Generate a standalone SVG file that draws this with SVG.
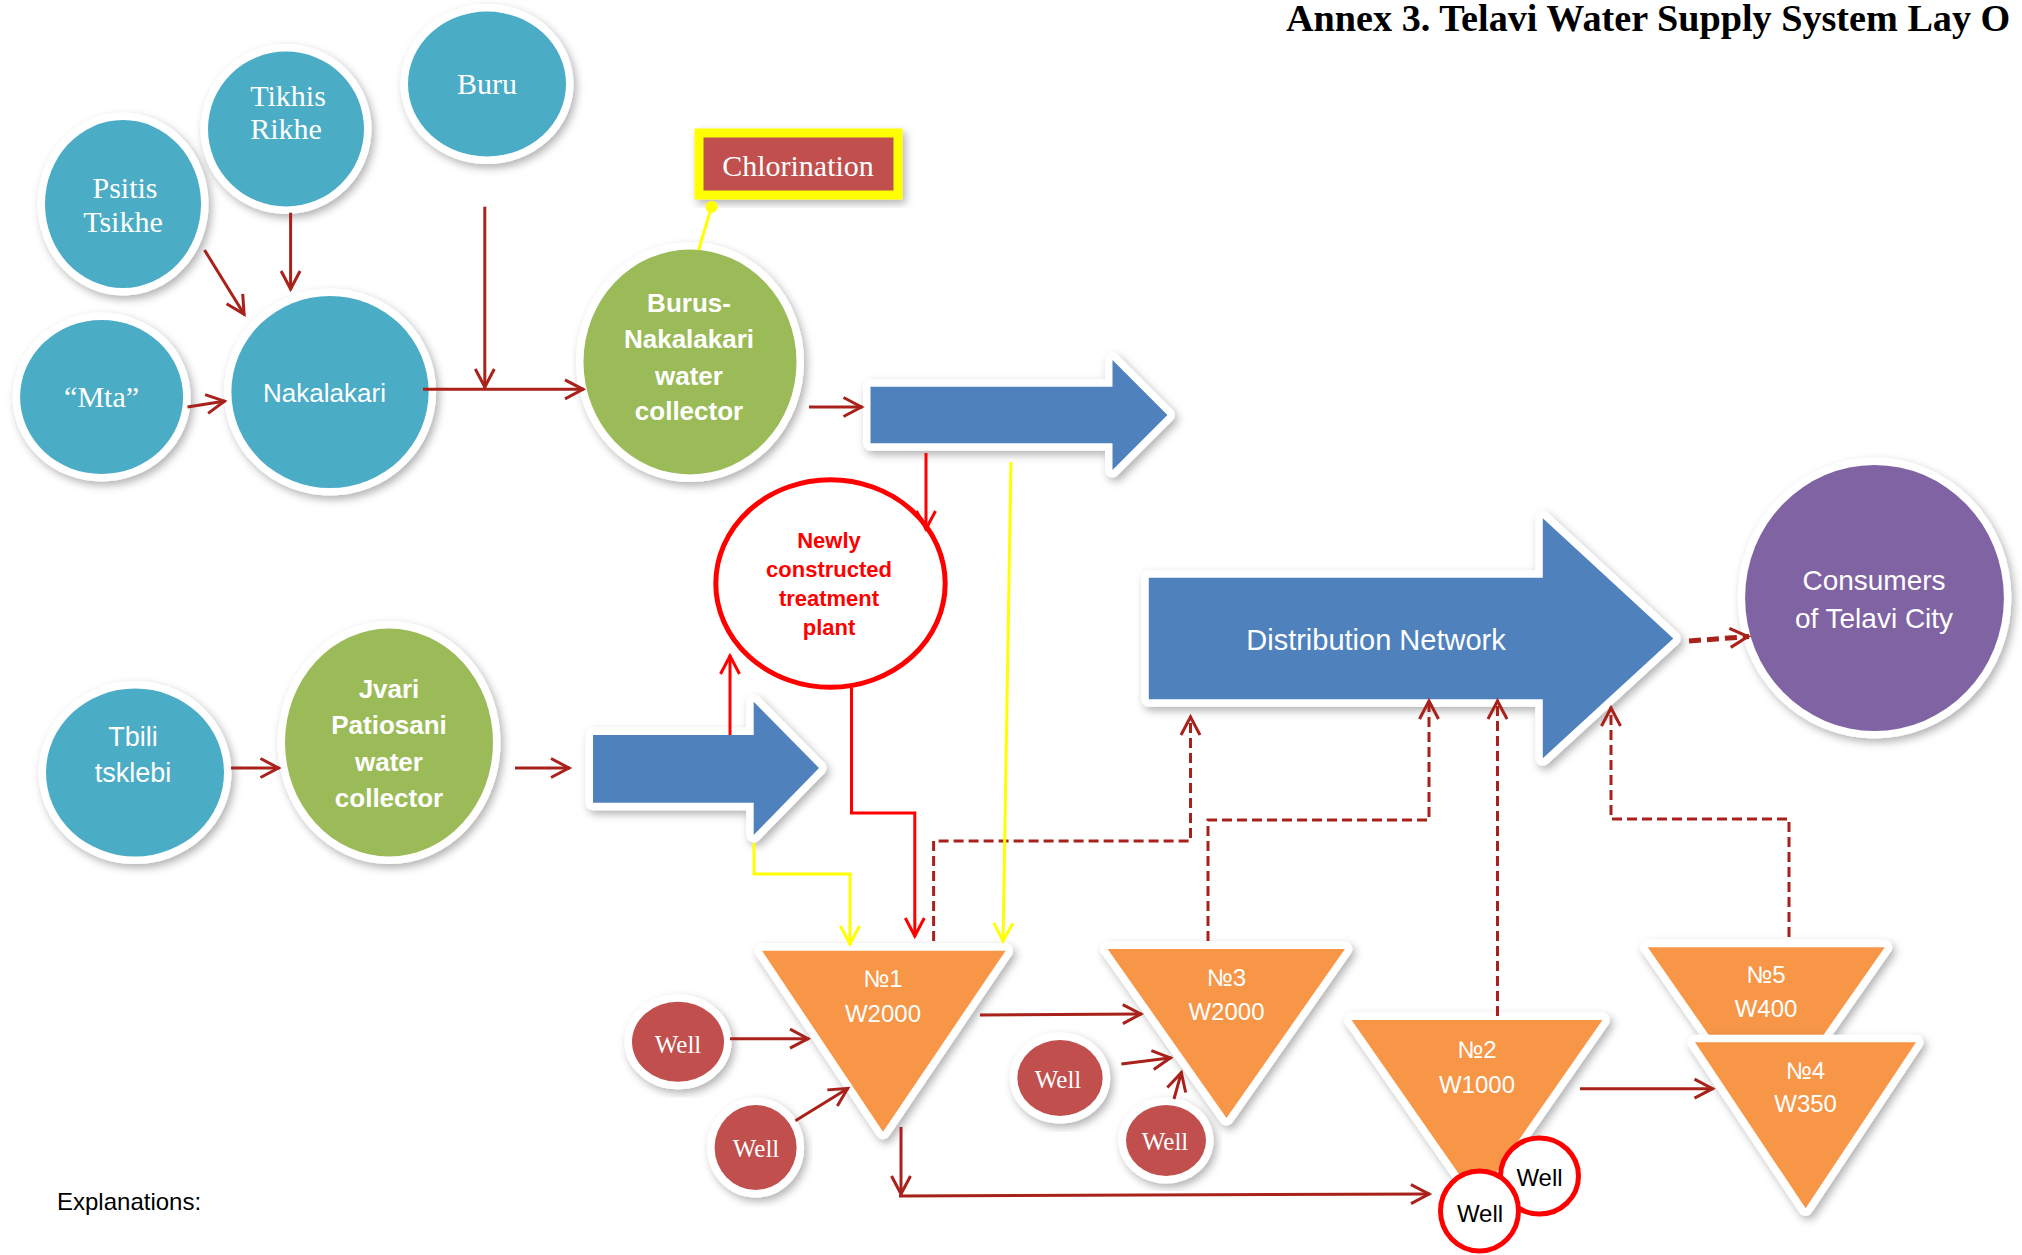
<svg xmlns="http://www.w3.org/2000/svg" width="2022" height="1255" viewBox="0 0 2022 1255">
<defs>
<style>
.serif{font-family:"Liberation Serif","Times New Roman",serif;fill:#fff;text-anchor:middle;font-size:30px}
.sans{font-family:"Liberation Sans",Arial,sans-serif;fill:#fff;text-anchor:middle}
.bold{font-weight:bold}
.shape{stroke:#fff;stroke-width:15;paint-order:stroke;filter:url(#sh);stroke-linejoin:round}
.teal{fill:#4BACC6}
.green{fill:#9BBB59}
.blue{fill:#4F81BD}
.purple{fill:#8064A2}
.orange{fill:#F79646}
.wellred{fill:#C0504D}
.conn{fill:none;stroke:#A8211A;stroke-width:3;marker-end:url(#ad)}
.dash{fill:none;stroke:#A8211A;stroke-width:3;stroke-dasharray:10 5;marker-end:url(#ad)}
.redl{fill:none;stroke:#FF0000;stroke-width:3;marker-end:url(#ar)}
.yell{fill:none;stroke:#FFFF00;stroke-width:3;marker-end:url(#ay)}
</style>
<filter id="sh" x="-20%" y="-20%" width="140%" height="140%">
<feDropShadow dx="3" dy="4" stdDeviation="4" flood-color="#000" flood-opacity="0.3"/>
</filter>
<marker id="ad" markerUnits="userSpaceOnUse" viewBox="-24 -14 30 28" markerWidth="30" markerHeight="28" refX="1" refY="0" orient="auto">
<path d="M-18,-9.5 L0,0 L-18,9.5" fill="none" stroke="#A8211A" stroke-width="3"/>
</marker>
<marker id="ar" markerUnits="userSpaceOnUse" viewBox="-24 -14 30 28" markerWidth="30" markerHeight="28" refX="1" refY="0" orient="auto">
<path d="M-18,-9.5 L0,0 L-18,9.5" fill="none" stroke="#FF0000" stroke-width="3"/>
</marker>
<marker id="ay" markerUnits="userSpaceOnUse" viewBox="-24 -14 30 28" markerWidth="30" markerHeight="28" refX="1" refY="0" orient="auto">
<path d="M-18,-9.5 L0,0 L-18,9.5" fill="none" stroke="#FFFF00" stroke-width="3"/>
</marker>
</defs>
<rect width="2022" height="1255" fill="#fff"/>

<text x="1286" y="31" font-family="Liberation Serif, Times New Roman, serif" font-weight="bold" font-size="38.2" fill="#000">Annex 3. Telavi Water Supply System Lay O</text>
<text x="57" y="1210" font-family="Liberation Sans, Arial, sans-serif" font-size="24" fill="#000">Explanations:</text>

<g id="psitis-tsikhe"><ellipse class="shape teal" cx="123" cy="204" rx="78" ry="84"/><text class="serif" x="125" y="198">Psitis</text><text class="serif" x="123" y="232">Tsikhe</text></g>
<g id="tikhis-rikhe"><ellipse class="shape teal" cx="286" cy="129" rx="78" ry="77.5"/><text class="serif" x="288" y="106">Tikhis</text><text class="serif" x="286" y="139">Rikhe</text></g>
<g id="buru"><ellipse class="shape teal" cx="487" cy="84" rx="79" ry="72.5"/><text class="serif" x="487" y="94">Buru</text></g>
<g id="mta"><ellipse class="shape teal" cx="101.6" cy="397" rx="81.5" ry="77"/><text class="serif" x="101.6" y="407">“Mta”</text></g>
<g id="nakalakari"><ellipse class="shape teal" cx="330" cy="392" rx="98.6" ry="96"/><text class="sans" font-size="26" x="324.5" y="402">Nakalakari</text></g>
<g id="burus-collector"><ellipse class="shape green" cx="690" cy="362" rx="106.5" ry="112.5"/>
<text class="sans bold" font-size="26" x="689" y="312">Burus-</text><text class="sans bold" font-size="26" x="689" y="348">Nakalakari</text><text class="sans bold" font-size="26" x="689" y="385">water</text><text class="sans bold" font-size="26" x="689" y="420">collector</text></g>
<g id="chlorination"><rect x="699" y="133" width="199" height="62" fill="#C0504D" stroke="#FFFF00" stroke-width="9" filter="url(#sh)"/><text class="serif" x="798" y="176">Chlorination</text></g>
<g id="arrow-top"><polygon class="shape blue" points="870.5,386.7 1112.5,386.7 1112.5,360 1167.4,415 1112.5,470 1112.5,443.3 870.5,443.3"/></g>
<g id="treatment-plant"><ellipse cx="830.5" cy="583.5" rx="114.7" ry="103.8" fill="#fff" stroke="#FF0000" stroke-width="5"/>
<text class="sans bold" font-size="22" style="fill:#FF0000" x="829" y="548">Newly</text><text class="sans bold" font-size="22" style="fill:#FF0000" x="829" y="577">constructed</text><text class="sans bold" font-size="22" style="fill:#FF0000" x="829" y="606">treatment</text><text class="sans bold" font-size="22" style="fill:#FF0000" x="829" y="635">plant</text></g>
<g id="tbili-tsklebi"><ellipse class="shape teal" cx="135" cy="772.5" rx="89" ry="84"/><text class="sans" font-size="27" x="133" y="746">Tbili</text><text class="sans" font-size="27" x="133" y="782">tsklebi</text></g>
<g id="jvari-collector"><ellipse class="shape green" cx="389" cy="742.5" rx="104" ry="114"/>
<text class="sans bold" font-size="26" x="389" y="698">Jvari</text><text class="sans bold" font-size="26" x="389" y="734">Patiosani</text><text class="sans bold" font-size="26" x="389" y="771">water</text><text class="sans bold" font-size="26" x="389" y="807">collector</text></g>
<g id="arrow-low"><polygon class="shape blue" points="593,735 753.7,735 753.7,701.7 819,768 753.7,835 753.7,802.7 593,802.7"/></g>
<g id="distribution-network"><polygon class="shape blue" points="1148.8,577.7 1542.8,577.7 1542.8,518.3 1673.3,638.5 1542.8,758.3 1542.8,699.3 1148.8,699.3"/><text class="sans" font-size="29" x="1376" y="650">Distribution Network</text></g>
<g id="consumers"><ellipse class="shape purple" cx="1874.5" cy="598" rx="129.4" ry="133"/><text class="sans" font-size="28" x="1874" y="590">Consumers</text><text class="sans" font-size="28" x="1874" y="628">of Telavi City</text></g>

<g id="reservoir-1"><polygon class="shape orange" points="762,950.7 1005.6,950.7 883,1131.7"/><text class="sans" font-size="24" x="883" y="987">№1</text><text class="sans" font-size="24" x="883" y="1022">W2000</text></g>
<g id="reservoir-3"><polygon class="shape orange" points="1107.6,949 1344.9,949 1226.5,1118"/><text class="sans" font-size="24" x="1226.5" y="986">№3</text><text class="sans" font-size="24" x="1226.5" y="1020">W2000</text></g>
<g id="reservoir-2"><polygon class="shape orange" points="1351.6,1020 1602.5,1020 1477,1200"/><text class="sans" font-size="24" x="1477" y="1058">№2</text><text class="sans" font-size="24" x="1477" y="1093">W1000</text></g>
<g id="reservoir-5"><polygon class="shape orange" points="1647.7,947.3 1884.8,947.3 1766,1117"/><text class="sans" font-size="24" x="1766" y="983">№5</text><text class="sans" font-size="24" x="1766" y="1017">W400</text></g>
<g id="reservoir-4"><polygon class="shape orange" points="1695,1042.3 1916,1042.3 1805.6,1208.3"/><text class="sans" font-size="24" x="1805.6" y="1079">№4</text><text class="sans" font-size="24" x="1805.6" y="1112">W350</text></g>

<g id="well-a"><ellipse class="shape wellred" cx="678" cy="1041.7" rx="46" ry="40"/><text class="serif" style="font-size:25px" x="678" y="1053">Well</text></g>
<g id="well-b"><ellipse class="shape wellred" cx="755.6" cy="1147.5" rx="41" ry="42.5"/><text class="serif" style="font-size:25px" x="756" y="1157">Well</text></g>
<g id="well-c"><ellipse class="shape wellred" cx="1060" cy="1078" rx="42.7" ry="38"/><text class="serif" style="font-size:25px" x="1058" y="1088">Well</text></g>
<g id="well-d"><ellipse class="shape wellred" cx="1166" cy="1140.5" rx="40" ry="35.5"/><text class="serif" style="font-size:25px" x="1165" y="1150">Well</text></g>
<g id="well-e"><ellipse cx="1539.5" cy="1176" rx="39" ry="38" fill="#fff" stroke="#FF0000" stroke-width="5"/><text class="sans" font-size="24" style="fill:#000" x="1539.5" y="1186">Well</text></g>
<g id="well-f"><ellipse cx="1479.5" cy="1211" rx="39" ry="40" fill="#fff" stroke="#FF0000" stroke-width="5"/><text class="sans" font-size="24" style="fill:#000" x="1480" y="1222">Well</text></g>

<g id="connectors">
<path class="conn" d="M204.5,250 L244.6,315"/>
<path class="conn" d="M290.6,212.7 L290.6,290"/>
<path class="conn" d="M484.8,206.7 L484.8,388"/>
<path class="conn" d="M423,389.3 L584,389.3"/>
<path class="conn" d="M187.5,407 L225.4,401"/>
<path class="conn" d="M809,407 L862.5,407"/>
<path class="conn" d="M231,768 L279.5,768"/>
<path class="conn" d="M515,768 L570,768"/>
<path class="conn" d="M730,1038.7 L809,1038.7"/>
<path class="conn" d="M795.4,1120.7 L848.5,1088"/>
<path class="conn" d="M980,1015 L1141.8,1014"/>
<path class="conn" d="M1121.4,1064 L1171.4,1057.7"/>
<path class="conn" d="M1174,1099 L1181.6,1071.7"/>
<path class="conn" d="M901,1127 L901,1195"/>
<path class="conn" d="M899,1196 L1430,1194"/>
<path class="conn" d="M1580,1088.7 L1713.5,1088.7"/>
<path class="dash" d="M933.6,941 V841 H1190.5 V716"/>
<path class="dash" d="M1208,941 V820 H1429 V700"/>
<path class="dash" d="M1497.5,1016 V700"/>
<path class="dash" d="M1789,937 V819 H1611 V707"/>
<path class="dash" style="stroke-width:5;stroke-dasharray:12 6" d="M1689,641 L1749,636.5"/>
<path class="redl" d="M926,453 V530"/>
<path class="redl" d="M851.5,688 V813 H914.8 V937"/>
<path class="redl" d="M730,735 V655"/>
<path class="yell" d="M1011,462 L1003,942"/>
<path class="yell" d="M754,843 V874 H850 V945"/>
<path d="M698.6,250 L711.6,206.7" fill="none" stroke="#FFFF00" stroke-width="3"/>
<circle cx="711.6" cy="206.7" r="6" fill="#FFFF00"/>
</g>
</svg>
